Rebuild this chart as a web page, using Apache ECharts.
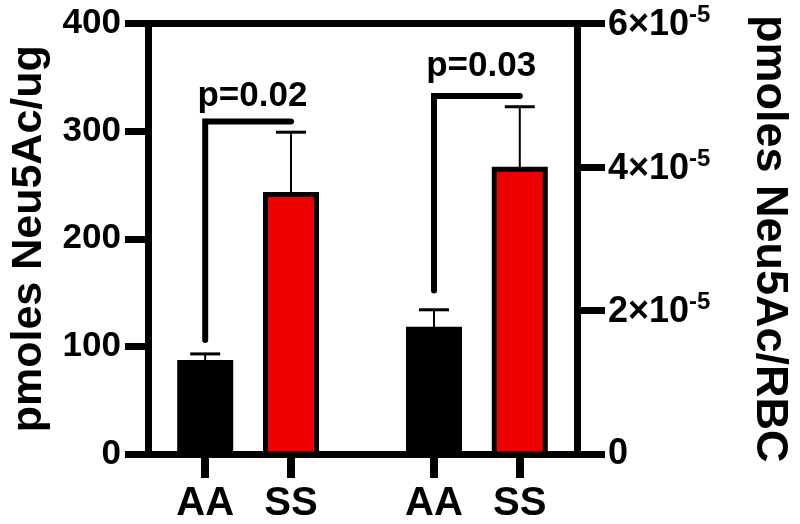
<!DOCTYPE html>
<html><head><meta charset="utf-8">
<script src="https://cdn.jsdelivr.net/npm/echarts@6/dist/echarts.min.js"></script>
<style>html,body{margin:0;padding:0;background:#fff}#c{width:800px;height:524px}</style>
</head><body><div id="c"></div>
<script>
// ---- data ----
const categories = ['AA', 'SS', 'AA', 'SS'];
const xPositions = [2, 5, 10, 13];            // slots on a 0..15 x scale
const leftMeans = [85, 241];                  // pmoles Neu5Ac/ug (AA, SS)
const leftErrTop = [93, 299];
const rightMeans = [1.74e-5, 3.97e-5];        // pmoles Neu5Ac/RBC (AA, SS)
const rightErrTop = [2.01e-5, 4.84e-5];
const leftTicks = [0, 100, 200, 300, 400];
const rightTicks = [0, 2e-5, 4e-5, 6e-5];
const pLabels = ['p=0.02', 'p=0.03'];
const leftBracket = [106, 309, 316];          // bottom, top, text (left units)
const rightBracket = [2.28e-5, 4.99e-5, 5.16e-5];
const pTextX = [3.65, 11.65];
const barColors = ['#000000', '#ee0000'];

const FONT = '"Liberation Sans", Arial, Helvetica, sans-serif';

function barItem(params, api) {
  const x = api.value(0), v = api.value(1), e = api.value(2), ci = api.value(3);
  const top = api.coord([x, v]);
  const base = api.coord([x, 0]);
  const ep = api.coord([x, e]);
  const w = 51;
  return { type: 'group', children: [
    { type: 'line', shape: { x1: top[0], y1: top[1], x2: ep[0], y2: ep[1] }, style: { stroke: '#000', lineWidth: 2 } },
    { type: 'line', shape: { x1: ep[0] - 15, y1: ep[1], x2: ep[0] + 15, y2: ep[1] }, style: { stroke: '#000', lineWidth: 3 } },
    { type: 'rect', shape: { x: top[0] - w / 2, y: top[1], width: w, height: base[1] - top[1] },
      style: { fill: barColors[ci], stroke: '#000', lineWidth: 5 } }
  ]};
}

function bracketItem(label) {
  return function (params, api) {
    const x1 = api.value(0), x2 = api.value(1), yb = api.value(2), yt = api.value(3), ytx = api.value(4), tx = api.value(5);
    const p1 = api.coord([x1, yb]), p2 = api.coord([x1, yt]), p3 = api.coord([x2, yt]);
    const pt = api.coord([tx, ytx]);
    return { type: 'group', children: [
      { type: 'polyline', shape: { points: [p1, p2, p3] },
        style: { stroke: '#000', lineWidth: 6, fill: null, lineCap: 'round', lineJoin: 'miter' } },
      { type: 'text', x: pt[0], y: pt[1],
        style: { text: label, font: 'bold 35px ' + FONT, fill: '#000', align: 'center', verticalAlign: 'bottom' } }
    ]};
  };
}

function rightFmt(v) {
  if (v === 0) return '{a|0}';
  const n = Math.round(v / 1e-5);
  return '{a|' + n + '×10}{s|-5}';
}

const axisLineStyle = { color: '#000', width: 7 };
const tickFont = { fontSize: 35, fontWeight: 'bold', color: '#000', fontFamily: FONT };

const option = {
  animation: false,
  backgroundColor: '#fff',
  grid: { left: 145, right: 220, top: 23.5, bottom: 67.5, containLabel: false },
  xAxis: [{
    type: 'value', min: 0, max: 15, position: 'bottom',
    axisLine: { show: true, onZero: false, lineStyle: axisLineStyle },
    axisTick: { show: true, customValues: xPositions, length: 24, lineStyle: { color: '#000', width: 8 } },
    axisLabel: { show: true, customValues: xPositions, margin: 30,
      formatter: v => categories[xPositions.indexOf(v)] || '',
      fontSize: 40, fontWeight: 'bold', color: '#000', fontFamily: FONT },
    splitLine: { show: false }
  }, {
    type: 'value', min: 0, max: 15, position: 'top',
    axisLine: { show: true, onZero: false, lineStyle: axisLineStyle },
    axisTick: { show: false }, axisLabel: { show: false }, splitLine: { show: false }
  }],
  yAxis: [{
    type: 'value', min: leftTicks[0], max: leftTicks[leftTicks.length - 1], interval: leftTicks[1] - leftTicks[0],
    position: 'left',
    name: 'pmoles Neu5Ac/ug', nameLocation: 'middle', nameGap: 97, nameRotate: 90,
    nameTextStyle: { fontSize: 43, fontWeight: 'bold', color: '#000', fontFamily: FONT },
    axisLine: { show: true, onZero: false, lineStyle: axisLineStyle },
    axisTick: { show: true, length: 23, lineStyle: { color: '#000', width: 7 } },
    axisLabel: Object.assign({ margin: 27 }, tickFont),
    splitLine: { show: false }
  }, {
    type: 'value', min: rightTicks[0], max: rightTicks[rightTicks.length - 1], interval: rightTicks[1] - rightTicks[0],
    position: 'right',
    name: 'pmoles Neu5Ac/RBC', nameLocation: 'middle', nameGap: 170, nameRotate: -90,
    nameTextStyle: { fontSize: 45, fontWeight: 'bold', color: '#000', fontFamily: FONT },
    axisLine: { show: true, onZero: false, lineStyle: axisLineStyle },
    axisTick: { show: true, length: 28, lineStyle: { color: '#000', width: 7 } },
    axisLabel: { margin: 31, formatter: rightFmt,
      rich: {
        a: { fontSize: 36, fontWeight: 'bold', color: '#000', fontFamily: FONT, verticalAlign: 'bottom' },
        s: { fontSize: 24, fontWeight: 'bold', color: '#000', fontFamily: FONT, verticalAlign: 'top', padding: [0, 0, 16, 0] }
      } },
    splitLine: { show: false }
  }],
  series: [{
    type: 'custom', xAxisIndex: 0, yAxisIndex: 0, renderItem: barItem, z: 3,
    encode: { x: 0, y: 1 },
    data: [[xPositions[0], leftMeans[0], leftErrTop[0], 0], [xPositions[1], leftMeans[1], leftErrTop[1], 1]]
  }, {
    type: 'custom', xAxisIndex: 0, yAxisIndex: 1, renderItem: barItem, z: 3,
    encode: { x: 0, y: 1 },
    data: [[xPositions[2], rightMeans[0], rightErrTop[0], 0], [xPositions[3], rightMeans[1], rightErrTop[1], 1]]
  }, {
    type: 'custom', xAxisIndex: 0, yAxisIndex: 0, renderItem: bracketItem(pLabels[0]), z: 4,
    encode: { x: [0, 1], y: [2, 3] },
    data: [[xPositions[0], xPositions[1], leftBracket[0], leftBracket[1], leftBracket[2], pTextX[0]]]
  }, {
    type: 'custom', xAxisIndex: 0, yAxisIndex: 1, renderItem: bracketItem(pLabels[1]), z: 4,
    encode: { x: [0, 1], y: [2, 3] },
    data: [[xPositions[2], xPositions[3], rightBracket[0], rightBracket[1], rightBracket[2], pTextX[1]]]
  }]
};

const chart = echarts.init(document.getElementById('c'), null, { renderer: 'canvas' });
chart.setOption(option);
</script>
</body></html>
